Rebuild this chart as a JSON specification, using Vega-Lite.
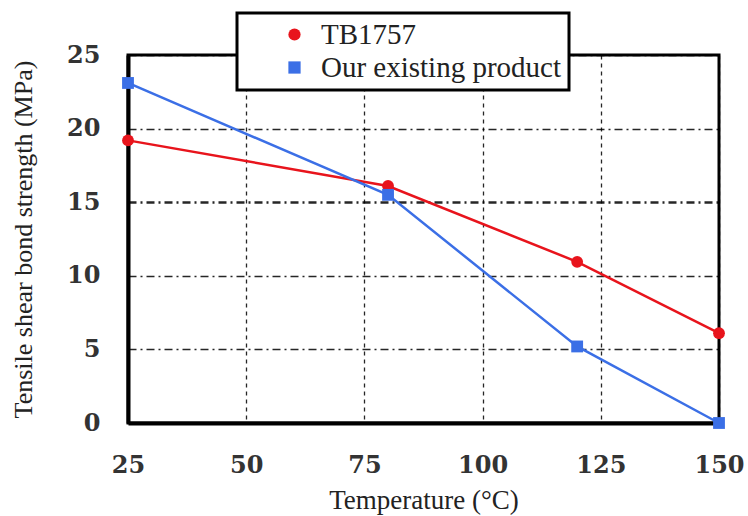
{
  "$schema": "https://vega.github.io/schema/vega-lite/v6.json",
  "width": 591,
  "height": 368,
  "autosize": {"type": "none"},
  "padding": {"left": 128, "top": 55, "right": 29, "bottom": 93},
  "background": "white",
  "config": {
    "view": {"stroke": "black", "strokeWidth": 3},
    "font": "Liberation Serif"
  },
  "data": {
    "values": [
      {"Temperature": 25, "Strength": 19.2, "Series": "TB1757"},
      {"Temperature": 80, "Strength": 16.1, "Series": "TB1757"},
      {"Temperature": 120, "Strength": 10.95, "Series": "TB1757"},
      {"Temperature": 150, "Strength": 6.1, "Series": "TB1757"},
      {"Temperature": 25, "Strength": 23.1, "Series": "Our existing product"},
      {"Temperature": 80, "Strength": 15.5, "Series": "Our existing product"},
      {"Temperature": 120, "Strength": 5.2, "Series": "Our existing product"},
      {"Temperature": 150, "Strength": 0, "Series": "Our existing product"}
    ]
  },
  "encoding": {
    "x": {
      "field": "Temperature", "type": "quantitative",
      "scale": {"domain": [25, 150], "nice": false, "zero": false},
      "axis": {
        "title": "Temperature (°C)", "values": [25, 50, 75, 100, 125, 150],
        "titleFont": "Liberation Serif", "titleFontSize": 27, "titleFontWeight": "normal", "titleColor": "#222",
        "titlePadding": 10,
        "labelFont": "DejaVu Serif", "labelFontSize": 24, "labelFontWeight": "bold", "labelColor": "#333",
        "labelPadding": 30, "tickSize": 0, "labelFlush": false,
        "domainColor": "black", "domainWidth": 4,
        "grid": true, "gridColor": "black", "gridDash": [4, 4], "gridWidth": 1.3, "gridOpacity": 0.85
      }
    },
    "y": {
      "field": "Strength", "type": "quantitative",
      "scale": {"domain": [0, 25], "nice": false},
      "axis": {
        "title": "Tensile shear bond strength (MPa)", "values": [0, 5, 10, 15, 20, 25],
        "titleFont": "Liberation Serif", "titleFontSize": 26, "titleFontWeight": "normal", "titleColor": "#222",
        "titlePadding": 30,
        "labelFont": "DejaVu Serif", "labelFontSize": 24, "labelFontWeight": "bold", "labelColor": "#333",
        "labelPadding": 28, "tickSize": 0,
        "domainColor": "black", "domainWidth": 4,
        "grid": true, "gridColor": "black", "gridDash": [8, 4, 2, 4],
        "gridWidth": {"condition": {"test": "datum.value === 15", "value": 2.5}, "value": 1.3},
        "gridOpacity": 0.85
      }
    },
    "color": {
      "field": "Series", "type": "nominal",
      "scale": {"domain": ["TB1757", "Our existing product"], "range": ["#e8141c", "#3b6fe6"]},
      "legend": {
        "title": null, "orient": "none", "legendX": 109, "legendY": -42,
        "strokeColor": "black", "fillColor": "white", "padding": 7,
        "labelFont": "Liberation Serif", "labelFontSize": 29, "labelColor": "#222", "labelLimit": 600,
        "symbolSize": 150, "symbolOffset": 36, "rowPadding": 3, "labelOffset": 12, "symbolStrokeWidth": 0,
        "encode": {"legend": {"update": {"strokeWidth": {"value": 3}}}}
      }
    },
    "shape": {
      "field": "Series", "type": "nominal",
      "scale": {"domain": ["TB1757", "Our existing product"], "range": ["circle", "square"]}
    }
  },
  "layer": [
    {"mark": {"type": "line", "strokeWidth": 2.5}, "encoding": {"shape": {"value": null}}},
    {"mark": {"type": "point", "filled": true, "size": 140, "opacity": 1, "clip": false}}
  ]
}
